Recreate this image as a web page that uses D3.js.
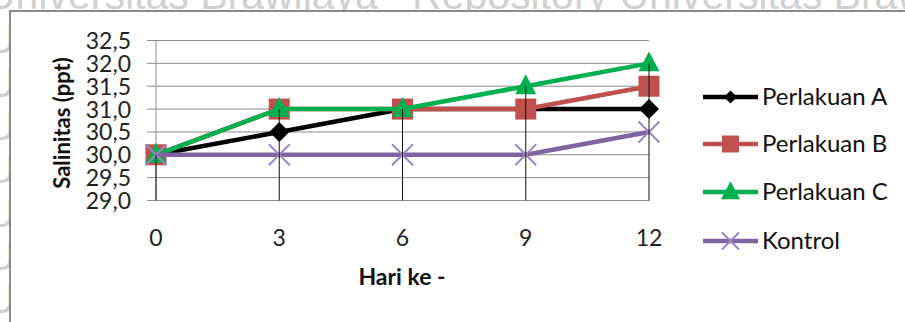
<!DOCTYPE html>
<html>
<head>
<meta charset="utf-8">
<script src="https://cdn.jsdelivr.net/npm/d3@7"></script>
<style>
  html, body { margin: 0; padding: 0; background: #fff; }
  svg { display: block; }
</style>
</head>
<body>
<svg id="chart" width="905" height="322"></svg>
<script>
// Salinity (ppt) per day for each treatment
const days = [0, 3, 6, 9, 12];
const perlakuanA = [30.0, 30.5, 31.0, 31.0, 31.0];
const perlakuanB = [30.0, 31.0, 31.0, 31.0, 31.5];
const perlakuanC = [30.0, 31.0, 31.0, 31.5, 32.0];
const kontrol    = [30.0, 30.0, 30.0, 30.0, 30.5];
const yTicks = [29.0, 29.5, 30.0, 30.5, 31.0, 31.5, 32.0, 32.5];
const seriesNames = ["Perlakuan A", "Perlakuan B", "Perlakuan C", "Kontrol"];

const series = [
  { name: seriesNames[0], values: perlakuanA, color: "#000000", marker: "diamond" },
  { name: seriesNames[1], values: perlakuanB, color: "#C0504D", marker: "square" },
  { name: seriesNames[2], values: perlakuanC, color: "#00B050", marker: "triangle" },
  { name: seriesNames[3], values: kontrol,    color: "#8064A2", marker: "x" }
];

const svg = d3.select("#chart");
const FONT = "Lato, 'Open Sans', sans-serif";

// page watermark: a full row along the top, row initials down the left margin
const wm = svg.append("g").attr("fill", "#d0d0d0")
  .attr("font-family", "'Liberation Sans', Arial, sans-serif")
  .attr("font-size", 41);
wm.append("text").attr("x", -14).attr("y", 9)
  .attr("xml:space", "preserve")
  .text("Universitas Brawijaya   Repository Universitas Brawijaya");
[53, 97, 140, 183, 227, 270, 313].forEach(b => {
  wm.append("text").attr("x", -14).attr("y", b).text("U");
});

// chart frame
svg.append("rect")
  .attr("x", 10).attr("y", 11).attr("width", 1000).attr("height", 400)
  .attr("fill", "#fff").attr("stroke", "#8a8a8a").attr("stroke-width", 2);

const x = d3.scaleLinear().domain([0, 12]).range([156, 649]);
const y = d3.scaleLinear().domain([29, 32.5]).range([200.5, 40.5]);

// horizontal gridlines with outward ticks
svg.append("g").selectAll("line").data(yTicks).join("line")
  .attr("x1", 147).attr("x2", x(12))
  .attr("y1", d => y(d)).attr("y2", d => y(d))
  .attr("stroke", "#8c8c8c").attr("stroke-width", 1);

// value axis line
svg.append("line")
  .attr("x1", x(0)).attr("x2", x(0)).attr("y1", y(32.5)).attr("y2", y(29))
  .attr("stroke", "#8c8c8c").attr("stroke-width", 1);

// y tick labels
svg.append("g").selectAll("text").data(yTicks).join("text")
  .attr("x", 131).attr("y", d => y(d) + 8.5)
  .attr("text-anchor", "end")
  .attr("font-family", FONT).attr("font-size", 23).attr("fill", "#222")
  .text(d => d3.format(".1f")(d).replace(".", ","));

// x tick labels
svg.append("g").selectAll("text").data(days).join("text")
  .attr("x", d => x(d)).attr("y", 246)
  .attr("text-anchor", "middle")
  .attr("font-family", FONT).attr("font-size", 23).attr("fill", "#222")
  .text(d => d);

// axis titles
svg.append("text")
  .attr("transform", `translate(70,123) rotate(-90)`)
  .attr("text-anchor", "middle")
  .attr("font-family", FONT).attr("font-size", 22).attr("font-weight", "bold").attr("fill", "#111")
  .text("Salinitas (ppt)");
svg.append("text")
  .attr("x", 402).attr("y", 285)
  .attr("text-anchor", "middle")
  .attr("font-family", FONT).attr("font-size", 23).attr("font-weight", "bold").attr("fill", "#111")
  .text("Hari ke -");

// marker drawing
function drawMarker(g, type, cx, cy, color, s) {
  if (type === "diamond") {
    g.append("path")
      .attr("d", `M${cx},${cy - s / 2}L${cx + s / 2},${cy}L${cx},${cy + s / 2}L${cx - s / 2},${cy}Z`)
      .attr("fill", color);
  } else if (type === "square") {
    g.append("rect").attr("x", cx - s / 2).attr("y", cy - s / 2)
      .attr("width", s).attr("height", s).attr("fill", color);
  } else if (type === "triangle") {
    const h = s * 0.95;
    g.append("path")
      .attr("d", `M${cx},${cy - h * 0.6}L${cx + s / 2},${cy + h * 0.4}L${cx - s / 2},${cy + h * 0.4}Z`)
      .attr("fill", color);
  } else {
    const r = s / 2;
    g.append("path")
      .attr("d", `M${cx - r},${cy - r}L${cx + r},${cy + r}M${cx - r},${cy + r}L${cx + r},${cy - r}`)
      .attr("stroke", "#9a86c0").attr("stroke-width", 2).attr("fill", "none");
  }
}

const line = d3.line().x(d => x(d[0])).y(d => y(d[1]));

series.forEach(s => {
  const g = svg.append("g");
  const pts = days.map((d, i) => [d, s.values[i]]);
  g.append("path").datum(pts).attr("d", line)
    .attr("fill", "none").attr("stroke", s.color).attr("stroke-width", 4.5)
    .attr("stroke-linejoin", "round");
  const sizes = { diamond: 20, square: 21, triangle: 21, x: 21 };
  pts.forEach(p => drawMarker(g, s.marker, x(p[0]), y(p[1]), s.color, sizes[s.marker]));
});

// drop lines from the highest value to the category axis
svg.append("g").selectAll("line").data(days).join("line")
  .attr("x1", d => x(d)).attr("x2", d => x(d))
  .attr("y1", (d, i) => y(d3.max(series, s => s.values[i])))
  .attr("y2", y(29))
  .attr("stroke", "#111").attr("stroke-width", 1);

// legend
const legendY = [97, 144, 192, 241];
series.forEach((s, i) => {
  const g = svg.append("g");
  const ly = legendY[i];
  g.append("line").attr("x1", 703).attr("x2", 758).attr("y1", ly).attr("y2", ly)
    .attr("stroke", s.color).attr("stroke-width", 4.5);
  const lsizes = { diamond: 13, square: 17, triangle: 19, x: 17 };
  drawMarker(g, s.marker, 730.5, ly, s.color, lsizes[s.marker]);
  g.append("text").attr("x", 762).attr("y", ly + 8)
    .attr("font-family", FONT).attr("font-size", 24).attr("fill", "#111")
    .text(s.name);
});
</script>
</body>
</html>
